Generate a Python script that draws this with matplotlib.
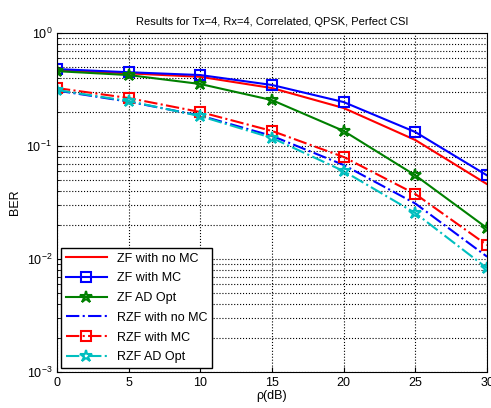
import numpy as np
import matplotlib.pyplot as plt

plt.rcParams['font.family'] = ['Liberation Sans', 'DejaVu Sans']

rho = [0, 5, 10, 15, 20, 25, 30]
zf_no_mc = [0.47, 0.44, 0.41, 0.326, 0.217, 0.113, 0.046]
zf_mc = [0.48, 0.45, 0.425, 0.347, 0.245, 0.133, 0.055]
zf_ad = [0.46, 0.425, 0.354, 0.255, 0.136, 0.055, 0.0188]
rzf_no_mc = [0.31, 0.247, 0.186, 0.123, 0.068, 0.031, 0.0105]
rzf_mc = [0.326, 0.266, 0.2, 0.136, 0.08, 0.0376, 0.0133]
rzf_ad = [0.313, 0.25, 0.184, 0.118, 0.06, 0.0255, 0.0083]

fig = plt.figure(figsize=(4.91, 4.08), dpi=100)
ax = fig.add_axes([0.116, 0.088, 0.876, 0.831])

ax.semilogy(rho, zf_no_mc, color='red', lw=1.5, label='ZF with no MC')
ax.semilogy(rho, zf_mc, color='blue', lw=1.5, marker='s', ms=7, mfc='none', mew=1.5, label='ZF with MC')
ax.semilogy(rho, zf_ad, color='green', lw=1.5, marker='*', ms=9, mfc='none', mew=1.5, label='ZF AD Opt')
ax.semilogy(rho, rzf_no_mc, color='blue', lw=1.5, ls='-.', label='RZF with no MC')
ax.semilogy(rho, rzf_mc, color='red', lw=1.5, ls='-.', marker='s', ms=7, mfc='none', mew=1.5, label='RZF with MC')
ax.semilogy(rho, rzf_ad, color='c', lw=1.5, ls='-.', marker='*', ms=9, mfc='none', mew=1.5, label='RZF AD Opt')

ax.set_xlim(0, 30)
ax.set_ylim(1e-3, 1)
ax.set_xticks([0, 5, 10, 15, 20, 25, 30])
ax.grid(True, which='major', ls=':', color='black', lw=0.8)
ax.grid(True, which='minor', axis='y', ls=':', color='black', lw=0.8)
ax.tick_params(labelsize=9, direction='in', which='both')
ax.set_xlabel('ρ(dB)', fontsize=9, labelpad=1)
ax.set_ylabel('BER', fontsize=9)
ax.set_title('Results for Tx=4, Rx=4, Correlated, QPSK, Perfect CSI', fontsize=8)
ax.legend(loc='lower left', fontsize=9, fancybox=False, edgecolor='black', framealpha=1,
          handlelength=3.3, labelspacing=0.62, borderaxespad=0.3)

fig.savefig('out.png', dpi=100)
